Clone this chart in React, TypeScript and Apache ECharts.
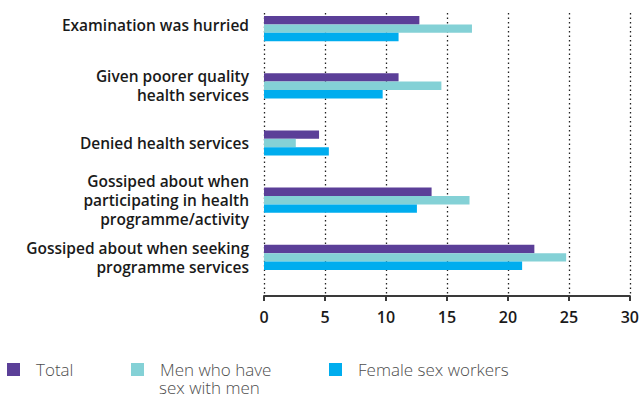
import React, { useEffect, useRef } from "react";
import * as echarts from "echarts";

const categories = [
  "Examination was hurried",
  "Given poorer quality\nhealth services",
  "Denied health services",
  "Gossiped about when\nparticipating in health\nprogramme/activity",
  "Gossiped about when seeking\nprogramme services",
];
const totalValues = [12.7, 11.0, 4.5, 13.7, 22.1];
const msmValues = [17.0, 14.5, 2.6, 16.8, 24.7];
const fswValues = [11.0, 9.7, 5.3, 12.5, 21.1];
const seriesNames = ["Total", "Men who have sex with men", "Female sex workers"];
const colors = ["#5b3f98", "#84d1d6", "#00adee"];

export default function App() {
  const ref = useRef<HTMLDivElement>(null);
  useEffect(() => {
    if (!ref.current) return;
    const chart = echarts.init(ref.current, null, { renderer: "svg" });
    const font = "'Open Sans', 'Noto Sans', sans-serif";
    const values = [totalValues, msmValues, fswValues];
    const legendPos = [7, 131, 329];
    chart.setOption({
      animation: false,
      textStyle: { fontFamily: font },
      grid: [
        { left: 264, right: 11, top: 0, height: 286, containLabel: false },
        { left: 264, right: 11, top: 13, height: 283, containLabel: false },
      ],
      xAxis: [
        { type: "value", gridIndex: 0, min: 0, max: 30, interval: 5, show: false },
        {
          type: "value",
          gridIndex: 1,
          min: 0,
          max: 30,
          interval: 5,
          axisLine: { show: true, lineStyle: { color: "#3a3a3a", width: 2 } },
          axisTick: { show: true, length: 5, lineStyle: { color: "#3a3a3a", width: 2 } },
          axisLabel: { color: "#1a1a1a", fontSize: 16, fontWeight: 600, margin: 13, fontFamily: font },
          splitLine: { show: true, lineStyle: { type: [1.5, 3], color: "#222", width: 1.3 } },
        },
      ],
      yAxis: [
        {
          type: "category",
          gridIndex: 0,
          data: categories,
          inverse: true,
          axisLine: { show: false },
          axisTick: { show: false },
          axisLabel: {
            color: "#1a1a1a",
            fontSize: 15.5,
            fontWeight: 600,
            lineHeight: 19,
            margin: 15,
            align: "right",
            fontFamily: font,
            formatter: (v: string, i: number) => (i === 0 ? `{up|${v}}` : v),
            rich: {
              up: {
                color: "#1a1a1a",
                fontSize: 15.5,
                fontWeight: 600,
                lineHeight: 19,
                fontFamily: font,
                padding: [0, 0, 8, 0],
              },
            },
          },
        },
        { type: "value", gridIndex: 1, show: false },
      ],
      legend: seriesNames.map((n, i) => ({
        data: [n],
        left: legendPos[i],
        top: 360,
        padding: 0,
        itemWidth: 13,
        itemHeight: 13,
        itemGap: 0,
        icon: "rect",
        formatter: i === 1 ? () => "Men who have" : undefined,
        textStyle: {
          fontSize: 17,
          lineHeight: 19,
          color: "#4d4d4d",
          fontWeight: 300,
          fontFamily: font,
          padding: [0, 0, 0, 11],
        },
      })),
      graphic: [
        {
          type: "text",
          x: 159,
          y: 387,
          style: {
            text: "sex with men",
            fontSize: 17,
            fill: "#4d4d4d",
            fontWeight: 300,
            fontFamily: font,
            verticalAlign: "middle",
          },
        },
      ],
      series: seriesNames.map((n, i) => ({
        name: n,
        type: "bar",
        xAxisIndex: 0,
        yAxisIndex: 0,
        data: values[i],
        barWidth: 8.4,
        barGap: "0%",
        itemStyle: { color: colors[i] },
      })),
    });
    return () => chart.dispose();
  }, []);
  return (
    <div
      ref={ref}
      style={{ position: "fixed", left: 0, top: 0, width: 642, height: 395, background: "#fff" }}
    />
  );
}
